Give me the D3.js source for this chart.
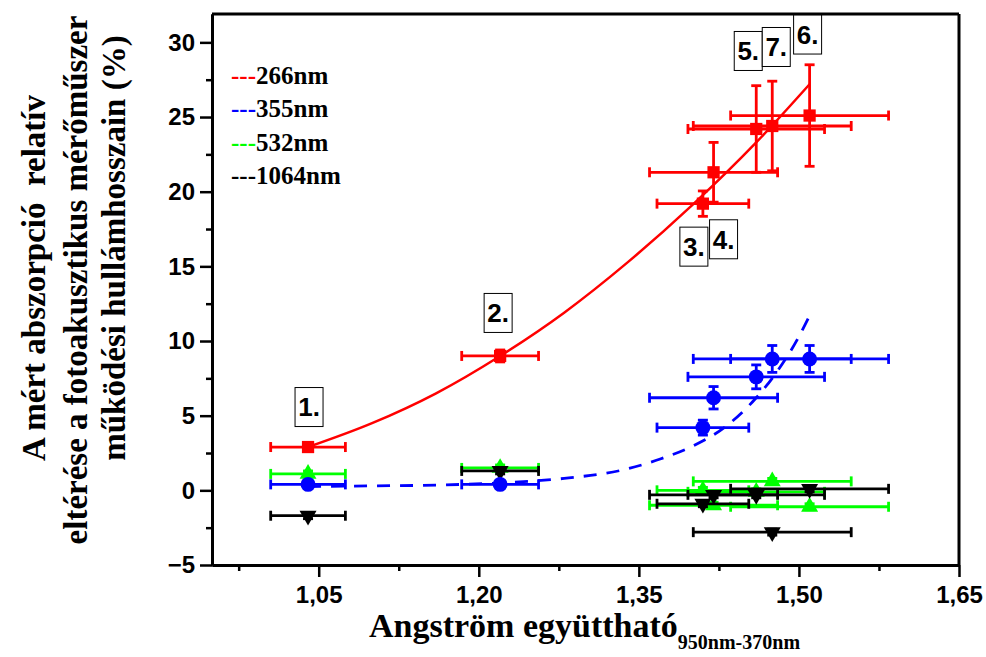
<!DOCTYPE html>
<meta charset="utf-8">
<style>
  body { margin: 0; background: #fff; }
  .tick text { font-family: "Liberation Sans", Arial, sans-serif; font-weight: bold; font-size: 24px; fill: #000; }
  .title { font-family: "Liberation Serif", "Times New Roman", serif; font-weight: bold; fill: #000; }
</style>
<script src="https://d3js.org/d3.v7.min.js"></script>
<div id="my_dataviz"></div>
<script>
  // samples and Angstrom coefficients (950nm-370nm)
  var samples = ["1.", "2.", "3.", "4.", "5.", "6.", "7."];
  var angstrom = [1.04, 1.22, 1.41, 1.42, 1.46, 1.51, 1.475];
  var angstromErr = [0.035, 0.036, 0.043, 0.06, 0.064, 0.074, 0.074];

  // relative deviation (%) per wavelength
  var dev266 = [2.9, 9.0, 19.2, 21.3, 24.2, 25.1, 24.4];
  var err266 = [0.15, 0.4, 0.85, 2.0, 2.9, 3.4, 3.0];
  var dev355 = [0.4, 0.4, 4.2, 6.2, 7.6, 8.8, 8.8];
  var err355 = [0.1, 0.1, 0.5, 0.75, 0.8, 0.9, 0.9];
  var dev532 = [1.1, 1.5, 0.0, -1.0, -0.1, -1.1, 0.6];
  var err532 = [0.2, 0.2, 0.2, 0.2, 0.2, 0.2, 0.2];
  var dev1064 = [-1.7, 1.3, -0.9, -0.3, -0.3, 0.1, -2.8];
  var err1064 = [0.2, 0.2, 0.2, 0.2, 0.2, 0.2, 0.2];

  // fitted curves
  var fitX266 = [1.04, 1.10, 1.16, 1.22, 1.28, 1.34, 1.40, 1.46, 1.51];
  var fit266 = [2.9, 4.5, 6.5, 9.0, 11.9, 15.3, 19.1, 23.3, 27.2];
  var fitX355 = [1.04, 1.10, 1.16, 1.22, 1.28, 1.34, 1.37, 1.40, 1.43, 1.46, 1.48, 1.50, 1.51];
  var fit355 = [0.25, 0.3, 0.35, 0.5, 0.8, 1.45, 2.1, 2.95, 4.2, 6.2, 8.0, 10.3, 11.7];

  var xTicks = [1.05, 1.20, 1.35, 1.50, 1.65];
  var xMinor = [0.975, 1.125, 1.275, 1.425, 1.575];
  var yTicks = [-5, 0, 5, 10, 15, 20, 25, 30];
  var yMinor = [-2.5, 2.5, 7.5, 12.5, 17.5, 22.5, 27.5];

  var legendNames = ["266nm", "355nm", "532nm", "1064nm"];
  var colors = ["#ff0000", "#0000ff", "#00ff00", "#000000"];

  // label box offsets from the red point (px)
  var labelOff = [[1, -40], [-2, -43], [-9, 43], [10, 67], [-8, -78], [-2, -81], [4, -79]];

  var W = 986, H = 657;
  var margin = { top: 14, right: 27, bottom: 92, left: 212 },
    width = W - margin.left - margin.right,
    height = H - margin.top - margin.bottom;

  var svg = d3.select("#my_dataviz")
    .append("svg")
    .attr("width", W)
    .attr("height", H)
    .append("g")
    .attr("transform", "translate(" + margin.left + "," + margin.top + ")");

  var x = d3.scaleLinear().domain([0.95, 1.65]).range([0, width]);
  var y = d3.scaleLinear().domain([-5, 31.9]).range([height, 0]);

  var fmt = function (d) { return d.toFixed(2).replace(".", ","); };

  // axes
  svg.append("g")
    .attr("transform", "translate(0," + height + ")")
    .call(d3.axisBottom(x).tickValues(xTicks).tickFormat(fmt).tickSize(12).tickSizeOuter(0).tickPadding(9));
  svg.append("g")
    .attr("transform", "translate(0," + height + ")")
    .call(d3.axisBottom(x).tickValues(xMinor).tickFormat("").tickSize(6).tickSizeOuter(0));
  svg.append("g")
    .call(d3.axisLeft(y).tickValues(yTicks).tickSize(12).tickSizeOuter(0).tickPadding(5));
  svg.append("g")
    .call(d3.axisLeft(y).tickValues(yMinor).tickFormat("").tickSize(6).tickSizeOuter(0));
  svg.selectAll(".domain").attr("stroke-width", 3);
  svg.selectAll(".tick line").attr("stroke-width", 2.5);

  // frame top / right
  svg.append("line").attr("x1", 0).attr("x2", width).attr("y1", 0).attr("y2", 0)
    .attr("stroke", "#000").attr("stroke-width", 3);
  svg.append("line").attr("x1", width).attr("x2", width).attr("y1", 0).attr("y2", height)
    .attr("stroke", "#000").attr("stroke-width", 3);

  // axis titles
  var xt = svg.append("text").attr("class", "title")
    .attr("x", 157).attr("y", height + 72)
    .style("font-size", "34px");
  xt.append("tspan").text("Angström együttható");
  xt.append("tspan").attr("dy", 12).style("font-size", "20px").text("950nm-370nm");

  var yLines = ["A mért abszorpció  relatív", "eltérése a fotoakusztikus mérőműszer", "működési hullámhosszain (%)"];
  var yCols = [33, 75, 113];
  var yCenters = [278, 280, 248];
  yLines.forEach(function (t, i) {
    svg.append("text").attr("class", "title")
      .attr("transform", "translate(" + (yCols[i] - margin.left) + "," + (yCenters[i] - margin.top) + ") rotate(-90)")
      .attr("text-anchor", "middle")
      .attr("dy", "0.35em")
      .style("font-size", "33px")
      .style("white-space", "pre")
      .text(t);
  });

  // fit lines
  var line = d3.line().x(function (d) { return x(d[0]); }).y(function (d) { return y(d[1]); })
    .curve(d3.curveMonotoneX);
  svg.append("path")
    .datum(d3.zip(fitX266, fit266))
    .attr("d", line).attr("fill", "none").attr("stroke", colors[0]).attr("stroke-width", 2.5);
  svg.append("path")
    .datum(d3.zip(fitX355, fit355))
    .attr("d", line).attr("fill", "none").attr("stroke", colors[1]).attr("stroke-width", 2.8)
    .attr("stroke-dasharray", "13,10");

  // series with error bars
  function series(vals, errs, color, marker) {
    var data = vals.map(function (v, i) {
      return { x: angstrom[i], xe: angstromErr[i], y: v, ye: errs[i] };
    });
    var g = svg.append("g").attr("stroke", color).attr("stroke-width", 2.8).attr("fill", color);
    var cap = 5;
    data.forEach(function (d) {
      var x0 = x(d.x - d.xe), x1 = x(d.x + d.xe), cx = x(d.x);
      var y0 = y(d.y - d.ye), y1 = y(d.y + d.ye), cy = y(d.y);
      g.append("line").attr("x1", x0).attr("x2", x1).attr("y1", cy).attr("y2", cy);
      g.append("line").attr("x1", x0).attr("x2", x0).attr("y1", cy - cap).attr("y2", cy + cap);
      g.append("line").attr("x1", x1).attr("x2", x1).attr("y1", cy - cap).attr("y2", cy + cap);
      g.append("line").attr("x1", cx).attr("x2", cx).attr("y1", y0).attr("y2", y1);
      g.append("line").attr("x1", cx - cap).attr("x2", cx + cap).attr("y1", y0).attr("y2", y0);
      g.append("line").attr("x1", cx - cap).attr("x2", cx + cap).attr("y1", y1).attr("y2", y1);
    });
    g.selectAll(".m")
      .data(data)
      .enter()
      .append("path")
      .attr("stroke", "none")
      .attr("transform", function (d) {
        return "translate(" + x(d.x) + "," + y(d.y) + ")" + (marker === "down" ? " rotate(180)" : "");
      })
      .attr("d", function () {
        if (marker === "square") return d3.symbol().type(d3.symbolSquare).size(150)();
        if (marker === "circle") return d3.symbol().type(d3.symbolCircle).size(175)();
        return d3.symbol().type(d3.symbolTriangle).size(125)();
      });
  }
  series(dev532, err532, colors[2], "up");
  series(dev1064, err1064, colors[3], "down");
  series(dev355, err355, colors[1], "circle");
  series(dev266, err266, colors[0], "square");

  // sample label boxes
  samples.forEach(function (s, i) {
    var cx = x(angstrom[i]) + labelOff[i][0], cy = y(dev266[i]) + labelOff[i][1];
    var g = svg.append("g").attr("transform", "translate(" + cx + "," + cy + ")");
    g.append("rect").attr("x", -14).attr("y", -19.5).attr("width", 28).attr("height", 39)
      .attr("fill", "#fff").attr("stroke", "#000").attr("stroke-width", 1);
    g.append("text").attr("text-anchor", "middle").attr("dy", "0.36em")
      .style("font-family", "Liberation Sans, Arial, sans-serif").style("font-weight", "bold")
      .style("font-size", "26px").text(s);
  });

  // legend
  legendNames.forEach(function (n, i) {
    var t = svg.append("text").attr("class", "title")
      .attr("x", 231 - margin.left).attr("y", 84 + i * 33.3 - margin.top)
      .style("font-size", "25px");
    t.append("tspan").attr("fill", colors[i]).text("---");
    t.append("tspan").text(n);
  });
</script>
